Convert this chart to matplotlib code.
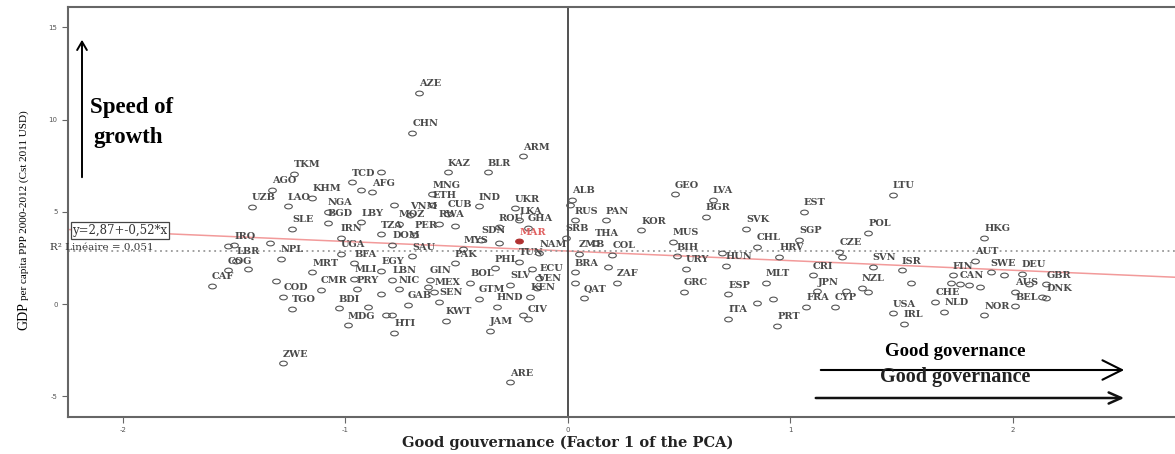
import numpy as np
import matplotlib
matplotlib.use('Agg')
import matplotlib.pyplot as plt
from matplotlib.path import Path
from matplotlib.transforms import Affine2D

plt.rcParams['axes.unicode_minus'] = False

# countries: code, governance factor, growth of GDP per capita
codes = ['AZE', 'CHN', 'ARM', 'KAZ', 'BLR', 'TKM', 'TCD', 'AGO', 'AFG', 'MNG',
         'KHM', 'UZB', 'LAO', 'NGA', 'ETH', 'IND', 'UKR', 'VNM', 'CUB', 'LKA',
         'BGD', 'LBY', 'MOZ', 'RWA', 'ROU', 'GHA', 'SLE', 'TZA', 'PER', 'IRN',
         'SDN', 'MAR', 'DOM', 'IRQ', 'UGA', 'MYS', 'NAM', 'LBR', 'NPL', 'SAU',
         'BFA', 'PAK', 'TUN', 'ZMB', 'COL', 'SRB', 'THA', 'MUS', 'BIH', 'CHL',
         'HRV', 'HUN', 'URY', 'BRA', 'ZAF', 'QAT', 'GRC', 'ESP', 'ITA', 'MLT',
         'CRI', 'JPN', 'NZL', 'FRA', 'CYP', 'PRT', 'USA', 'IRL', 'LTU', 'EST',
         'SVK', 'SGP', 'POL', 'CZE', 'SVN', 'ISR', 'FIN', 'CAN', 'CHE', 'NLD',
         'HKG', 'AUT', 'SWE', 'DEU', 'GBR', 'AUS', 'DNK', 'BEL', 'NOR', 'GEO',
         'LVA', 'BGR', 'ALB', 'RUS', 'PAN', 'KOR', 'EGY', 'GIN', 'LBN', 'ECU',
         'PHL', 'BOL', 'SLV', 'VEN', 'NIC', 'MEX', 'GTM', 'KEN', 'HND', 'GAB',
         'SEN', 'KWT', 'CIV', 'HTI', 'JAM', 'ARE', 'MRT', 'MLI', 'COG', 'CAF',
         'COD', 'CMR', 'PRY', 'TGO', 'BDI', 'MDG', 'ZWE']
gov = [-0.67, -0.70, -0.20, -0.54, -0.36, -1.23, -0.97, -1.33, -0.88, -0.61,
       -1.15, -1.42, -1.26, -1.08, -0.61, -0.40, -0.24, -0.71, -0.54, -0.22,
       -1.08, -0.93, -0.76, -0.58, -0.31, -0.18, -1.24, -0.84, -0.69, -1.02,
       -0.39, -0.22, -0.79, -1.50, -1.02, -0.47, -0.13, -1.49, -1.29, -0.70,
       -0.96, -0.51, -0.22, 0.05, 0.20, -0.01, 0.12, 0.47, 0.49, 0.85,
       0.95, 0.71, 0.53, 0.03, 0.22, 0.07, 0.52, 0.72, 0.72, 0.89,
       1.10, 1.12, 1.32, 1.07, 1.20, 0.94, 1.46, 1.51, 1.46, 1.06,
       0.80, 1.04, 1.35, 1.22, 1.37, 1.50, 1.73, 1.76, 1.65, 1.69,
       1.87, 1.83, 1.90, 2.04, 2.15, 2.01, 2.15, 2.01, 1.87, 0.48,
       0.65, 0.62, 0.02, 0.03, 0.17, 0.33, -0.84, -0.62, -0.79, -0.13,
       -0.33, -0.44, -0.26, -0.14, -0.76, -0.60, -0.40, -0.17, -0.32, -0.72,
       -0.58, -0.55, -0.18, -0.78, -0.35, -0.26, -1.15, -0.96, -1.53, -1.60,
       -1.28, -1.11, -0.95, -1.24, -1.03, -0.99, -1.28]
growth = [11.44, 9.27, 8.02, 7.15, 7.15, 7.05, 6.61, 6.18, 6.07, 5.96,
          5.75, 5.26, 5.31, 4.99, 5.37, 5.31, 5.20, 4.82, 4.88, 4.55,
          4.39, 4.44, 4.34, 4.34, 4.17, 4.12, 4.07, 3.79, 3.74, 3.58,
          3.47, 3.41, 3.20, 3.20, 2.71, 2.98, 2.76, 2.33, 2.44, 2.60,
          2.22, 2.22, 2.28, 2.71, 2.66, 3.58, 3.31, 3.36, 2.60, 3.09,
          2.55, 2.06, 1.90, 1.73, 1.14, 0.33, 0.65, 0.54, -0.81, 1.14,
          1.57, 0.70, 0.87, -0.16, -0.16, -1.19, -0.49, -1.08, 5.91, 4.99,
          4.07, 3.47, 3.85, 2.82, 2.01, 1.84, 1.57, 1.08, 0.11, -0.43,
          3.58, 2.33, 1.73, 1.63, 1.08, 0.65, 0.33, -0.11, -0.60, 5.96,
          5.64, 4.72, 5.64, 4.55, 4.55, 4.01, 1.79, 1.30, 1.30, 1.41,
          1.95, 1.14, 1.03, 0.87, 0.81, 0.65, 0.27, 0.38, -0.16, -0.05,
          0.11, -0.92, -0.81, -1.57, -1.46, -4.23, 1.73, 1.36, 1.84, 0.98,
          0.38, 0.76, 0.81, -0.27, -0.22, -1.14, -3.20]

# circles whose labels are hidden under other labels
extra_gov = [-1.53, -1.34, -1.31, -1.44, -0.93, -0.84, -0.78, 0.01, -0.51, -0.31,
             -0.16, -0.63, -0.20, -0.84, -0.90, -0.82, -0.79, 0.18, 0.69, 1.23,
             1.54, 1.25, 1.35, 0.92, 0.85, 1.72, 1.80, 1.85, 1.96, 2.07,
             2.13, 0.03]
extra_growth = [3.14, 3.31, 1.25, 1.90, 6.18, 7.15, 5.37, 5.37, 4.23, 3.31,
                1.90, 0.92, -0.60, 0.54, -0.16, -0.62, -0.62, 2.01, 2.76, 2.55,
                1.14, 0.70, 0.65, 0.27, 0.05, 1.14, 1.03, 0.92, 1.57, 1.08,
                0.38, 1.14]

intercept, slope = 2.87, -0.52
mean_growth = 2.85

W, H = 1175, 454
fig = plt.figure(figsize=(W / 100, H / 100), dpi=100)
ax = fig.add_axes([68 / W, 1 - 417 / H, 1107 / W, 410 / H])
ax.set_xlim(-2.247, 2.728)
ax.set_ylim(-6.125, 16.1)

ellipse = Path.unit_circle().transformed(Affine2D().scale(1, 0.62))

xs = np.array(ax.get_xlim())
ax.plot(xs, intercept + slope * xs, color='#f29a9a', lw=1.1, zorder=1)
ax.axhline(mean_growth, color='#999999', ls=(0, (1, 2)), lw=1.3, zorder=1)
ax.axvline(0, color='#333333', lw=1.2, zorder=2)

gx = np.array(gov)
gy = np.array(growth)
is_mar = np.array([c == 'MAR' for c in codes])
ax.plot(gx[~is_mar], gy[~is_mar], ls='none', marker=ellipse, ms=5.5,
        mfc='none', mec='#555555', mew=0.8, zorder=3)
ax.plot(extra_gov, extra_growth, ls='none', marker=ellipse, ms=5.5,
        mfc='none', mec='#555555', mew=0.8, zorder=3)
ax.plot(gx[is_mar], gy[is_mar], ls='none', marker=ellipse, ms=5.5,
        mfc='#b03030', mec='#b03030', mew=0.8, zorder=3)

for c, x, y in zip(codes, gov, growth):
    ax.annotate(c, (x, y), xytext=(0, 6.5), textcoords='offset points',
                ha='left', va='center', fontsize=7, family='DejaVu Serif',
                weight='bold', color='#e06060' if c == 'MAR' else '#4a4a4a',
                zorder=4)

ax.text(0.004, 0.455, 'y=2,87+-0,52*x', transform=ax.transAxes, fontsize=8.5,
        family='DejaVu Serif', va='center', color='#333333', zorder=5,
        bbox=dict(boxstyle='square,pad=0.15', fc='white', ec='#444444', lw=0.9))
fig.text(50 / W, 1 - 247 / H, 'R² Linéaire = 0,051', fontsize=7.5,
         family='DejaVu Serif', va='center', color='#333333')

for s in ['left', 'top', 'bottom']:
    ax.spines[s].set_color('#666666')
    ax.spines[s].set_linewidth(1.5)
ax.spines['right'].set_visible(False)
ax.set_xticks([-2, -1, 0, 1, 2])
ax.set_yticks([-5, 0, 5, 10, 15])
ax.tick_params(labelsize=5, color='#666666', labelcolor='#555555', length=4, width=0.8)

# axis titles
fig.text(24 / W, 1 - 316 / H, 'GDP', rotation=90, ha='center', va='center',
         fontsize=10, family='Liberation Serif')
fig.text(24 / W, 1 - 300 / H, 'per capita PPP 2000-2012 (Cst 2011 USD)', rotation=90,
         ha='center', va='bottom', fontsize=8, family='Liberation Serif')
fig.text(568 / W, 1 - 443 / H, 'Good gouvernance (Factor 1 of the PCA)', ha='center',
         va='center', fontsize=10.5, family='DejaVu Serif', weight='bold', color='#222222')

# hand-drawn annotations
fig.text(90 / W, 1 - 107 / H, 'Speed of', fontsize=16.5, family='Liberation Serif',
         weight='bold', va='center')
fig.text(93 / W, 1 - 137 / H, 'growth', fontsize=16.5, family='Liberation Serif',
         weight='bold', va='center')
fig.add_artist(matplotlib.patches.FancyArrowPatch(
    (82 / W, 1 - 180 / H), (82 / W, 1 - 37 / H), transform=fig.transFigure,
    arrowstyle='->,head_length=6,head_width=3.5', color='black', lw=1.4))

fig.text(885 / W, 1 - 352 / H, 'Good governance', fontsize=13.5, family='Liberation Serif',
         weight='bold', va='center')
fig.text(880 / W, 1 - 377 / H, 'Good governance', fontsize=14.5, family='Liberation Serif',
         weight='bold', va='center', color='#222222')
fig.add_artist(matplotlib.patches.FancyArrowPatch(
    (818 / W, 1 - 370 / H), (1127 / W, 1 - 370 / H), transform=fig.transFigure,
    arrowstyle='->,head_length=14,head_width=7', color='black', lw=1.5))
fig.add_artist(matplotlib.patches.FancyArrowPatch(
    (813 / W, 1 - 398 / H), (1127 / W, 1 - 398 / H), transform=fig.transFigure,
    arrowstyle='->,head_length=9,head_width=4', color='#111111', lw=1.8))

fig.savefig('out.png', dpi=100)
